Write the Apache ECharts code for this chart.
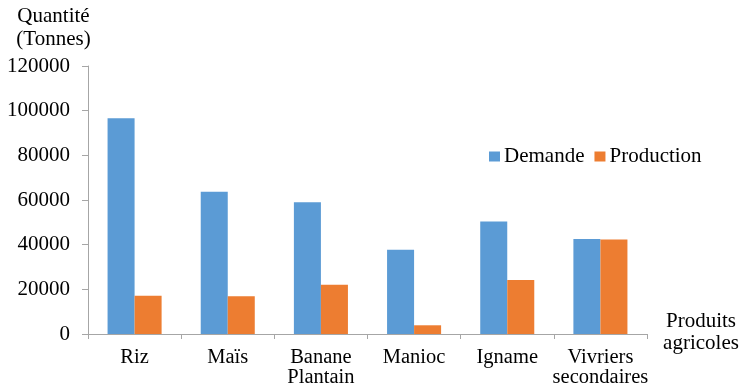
<!DOCTYPE html>
<html>
<head>
<meta charset="utf-8">
<script src="https://cdn.jsdelivr.net/npm/echarts@6/dist/echarts.min.js"></script>
<style>
  html, body { margin: 0; padding: 0; background: #fff; }
  #chart { width: 743px; height: 387px; }
</style>
</head>
<body>
<div id="chart"></div>
<script>
// Produits vivriers : demande et production (tonnes)
const categories = ['Riz', 'Maïs', 'Banane\nPlantain', 'Manioc', 'Igname', 'Vivriers\nsecondaires'];
const demande = [96600, 63700, 59000, 37700, 50400, 42500];
const production = [17100, 16900, 22000, 3900, 24200, 42300];
const yTicks = { min: 0, max: 120000, interval: 20000 };

const serif = "'Liberation Serif', 'Times New Roman', serif";
const axisGray = '#A6A6A6';

const chart = echarts.init(document.getElementById('chart'), null, { renderer: 'canvas' });
chart.setOption({
  animation: false,
  backgroundColor: '#fff',
  grid: { left: 88, top: 66, right: 96, bottom: 53, containLabel: false, outerBoundsMode: 'none' },
  legend: {
    left: 484, top: 141,
    icon: 'rect', itemWidth: 11, itemHeight: 10, itemGap: 10,
    textStyle: { fontFamily: serif, fontSize: 21, color: '#000', padding: [0, 0, 0, -1] },
    data: ['Demande', 'Production']
  },
  xAxis: {
    type: 'category',
    data: categories,
    axisLine: { lineStyle: { color: axisGray, width: 1 } },
    axisTick: { show: true, length: 5, lineStyle: { color: axisGray } },
    axisLabel: { fontFamily: serif, fontSize: 20.5, color: '#000', margin: 13, lineHeight: 20.5, interval: 0 },
    splitLine: { show: false }
  },
  yAxis: {
    type: 'value',
    min: yTicks.min, max: yTicks.max, interval: yTicks.interval,
    axisLine: { show: true, lineStyle: { color: axisGray, width: 1 } },
    axisTick: { show: true, length: 6, lineStyle: { color: axisGray } },
    axisLabel: { fontFamily: serif, fontSize: 21, color: '#000', margin: 18, formatter: v => String(v) },
    splitLine: { show: false }
  },
  series: [
    { name: 'Demande', type: 'bar', data: demande, itemStyle: { color: '#5B9BD5' }, barGap: '0%', barCategoryGap: '42%' },
    { name: 'Production', type: 'bar', data: production, itemStyle: { color: '#ED7D31' }, barGap: '0%', barCategoryGap: '42%' }
  ],
  graphic: [
    { type: 'text', x: 53.5, y: 16.5, style: { text: 'Quantité', fontFamily: serif, fontSize: 21, fill: '#000', align: 'center', verticalAlign: 'middle' } },
    { type: 'text', x: 53.5, y: 39, style: { text: '(Tonnes)', fontFamily: serif, fontSize: 21, fill: '#000', align: 'center', verticalAlign: 'middle' } },
    { type: 'text', x: 701, y: 321.5, style: { text: 'Produits', fontFamily: serif, fontSize: 21, fill: '#000', align: 'center', verticalAlign: 'middle' } },
    { type: 'text', x: 701, y: 343.5, style: { text: 'agricoles', fontFamily: serif, fontSize: 21, fill: '#000', align: 'center', verticalAlign: 'middle' } }
  ]
});
</script>
</body>
</html>
